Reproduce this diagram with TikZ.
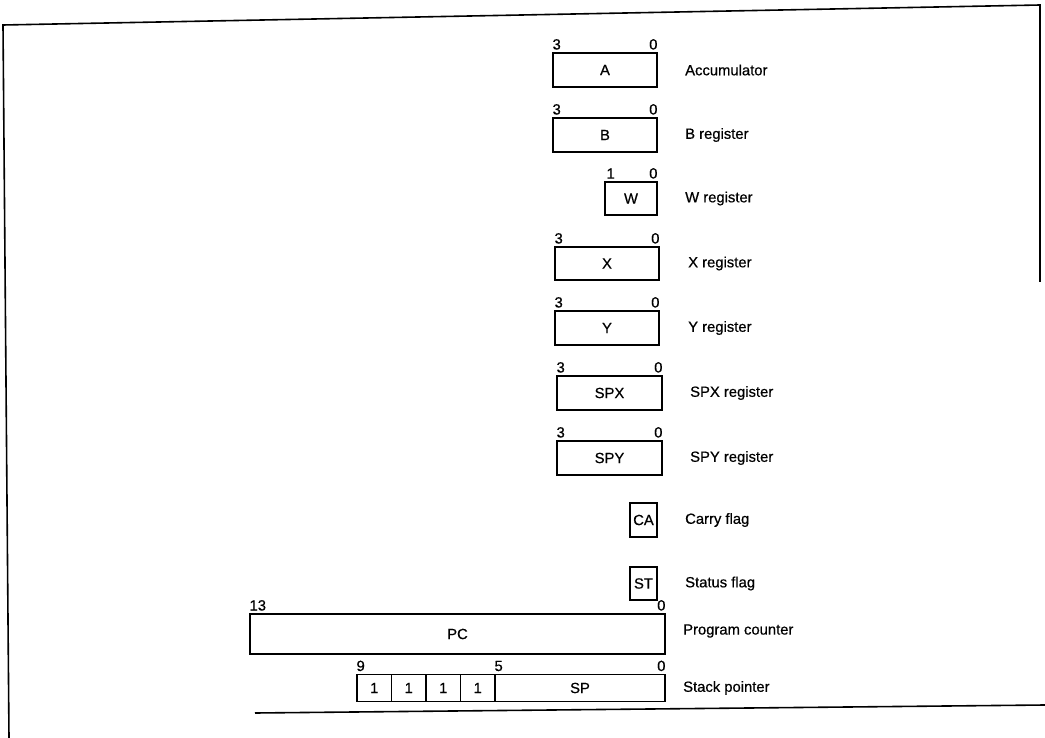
\documentclass[tikz,border=0pt]{standalone}
\usepackage{fontspec}
\setmainfont[FakeBold=0.6]{Liberation Sans}
\begin{document}
\begin{tikzpicture}[x=1pt,y=-1pt,
  every node/.style={font=\fontsize{14.8}{17}\selectfont},
  reg/.style={draw, line width=1.3pt, inner sep=0, minimum height=34},
  bitl/.style={anchor=south west, inner sep=0},
  bitr/.style={anchor=south east, inner sep=0},
  lbl/.style={anchor=west, inner sep=0},
  frame/.style={line width=1.6pt}]
\useasboundingbox (0,0) rectangle (1045,738);
% frame
\draw[frame] (1040,282) -- (1040,5) -- (3,25) -- (9,738);
\draw[frame] (255,713) -- (1045,705);
% registers
\node[reg, minimum width=104] (A) at (605,70) {A};
\node[reg, minimum width=104] (B) at (605,135) {B};
\node[reg, minimum width=52, minimum height=33] (W) at (631,198.5) {W};
\node[reg, minimum width=104, minimum height=33] (X) at (607,263.5) {X};
\node[reg, minimum width=104] (Y) at (607,328) {Y};
\node[reg, minimum width=105] (SPX) at (609.5,393) {SPX};
\node[reg, minimum width=105] (SPY) at (609.5,458) {SPY};
\node[reg, minimum width=27] (CA) at (643.5,520) {CA};
\node[reg, minimum width=27, minimum height=33] (ST) at (643.5,583.5) {ST};
\node[reg, minimum width=415, minimum height=40] (PC) at (457.5,634) {PC};
\node[reg, minimum width=34.5, minimum height=27] (S1) at (374.25,688) {1};
\node[reg, minimum width=34.5, minimum height=27] (S2) at (408.75,688) {1};
\node[reg, minimum width=34.5, minimum height=27] (S3) at (443.25,688) {1};
\node[reg, minimum width=34.5, minimum height=27] (S4) at (477.75,688) {1};
\node[reg, minimum width=170, minimum height=27] (SP) at (580,688) {SP};
% bit numbers
\node[bitl] (A3) at ([yshift=2.5pt]A.north west) {3};
\node[bitr] (A0) at ([yshift=2.5pt]A.north east) {0};
\node[bitl] (B3) at ([yshift=2.5pt]B.north west) {3};
\node[bitr] (B0) at ([yshift=2.5pt]B.north east) {0};
\node[bitl] (W1) at ([yshift=2.5pt,xshift=2pt]W.north west) {1};
\node[bitr] (W0) at ([yshift=2.5pt]W.north east) {0};
\node[bitl] (X3) at ([yshift=2.5pt]X.north west) {3};
\node[bitr] (X0) at ([yshift=2.5pt]X.north east) {0};
\node[bitl] (Y3) at ([yshift=2.5pt]Y.north west) {3};
\node[bitr] (Y0) at ([yshift=2.5pt]Y.north east) {0};
\node[bitl] (SPX3) at ([yshift=2.5pt]SPX.north west) {3};
\node[bitr] (SPX0) at ([yshift=2.5pt]SPX.north east) {0};
\node[bitl] (SPY3) at ([yshift=2.5pt]SPY.north west) {3};
\node[bitr] (SPY0) at ([yshift=2.5pt]SPY.north east) {0};
\node[bitl] (PC13) at ([yshift=2.5pt]PC.north west) {13};
\node[bitr] (PC0) at ([yshift=2.5pt]PC.north east) {0};
\node[bitl] (S9) at ([yshift=2.5pt]S1.north west) {9};
\node[bitl] (S5) at ([yshift=2.5pt]SP.north west) {5};
\node[bitr] (SP0) at ([yshift=2.5pt]SP.north east) {0};
% labels
\node[lbl] (lA) at (685,70) {Accumulator};
\node[lbl] (lB) at (685,135) {B register};
\node[lbl] (lW) at (685,198.5) {W register};
\node[lbl] (lX) at (688,263.5) {X register};
\node[lbl] (lY) at (688,328) {Y register};
\node[lbl] (lSPX) at (690,393) {SPX register};
\node[lbl] (lSPY) at (690,458) {SPY register};
\node[lbl] (lCA) at (685,520) {Carry flag};
\node[lbl] (lST) at (685,583.5) {Status flag};
\node[lbl] (lPC) at (683,631) {Program counter};
\node[lbl] (lSP) at (683,688) {Stack pointer};
\end{tikzpicture}
\end{document}
